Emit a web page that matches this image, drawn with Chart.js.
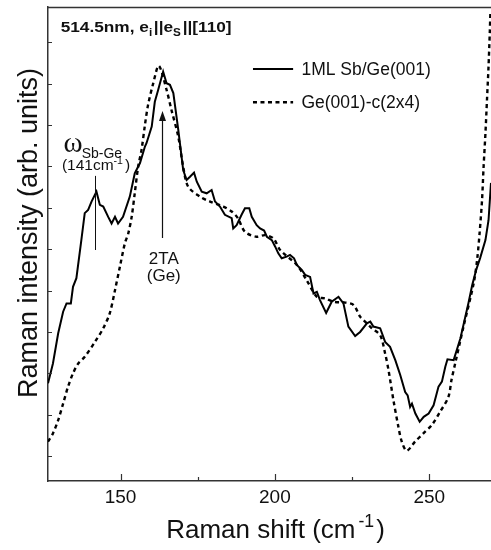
<!DOCTYPE html>
<html lang="en">
<head>
<meta charset="UTF-8">
<title>Raman spectrum - 1ML Sb/Ge(001)</title>
<script src="https://cdn.jsdelivr.net/npm/chart.js"></script>
<style>
    html, body { margin: 0; padding: 0; background: #fff; }
    #wrap { width: 491px; height: 550px; }
</style>
</head>
<body>
<div id="wrap"><canvas id="raman"></canvas></div>
<script>
// spectrum (x: Raman shift in cm-1, y: arbitrary units)
const solidShift = [126.5,128.1,129.8,131.4,132.5,133.9,134.6,135.7,137.3,138.4,
    139.5,140.6,142.2,143.3,144.4,146.0,147.1,148.2,149.2,150.8,
    153.0,154.6,156.3,157.9,158.4,160.1,161.1,162.2,163.8,164.9,
    166.0,167.1,168.7,170.3,171.4,172.5,173.8,174.7,176.3,177.9,
    179.5,180.6,182.2,183.8,186.0,186.5,187.6,189.2,190.3,191.7,
    192.5,194.1,195.2,196.5,197.4,199.0,200.1,201.1,202.2,203.8,
    204.9,206.2,207.1,208.7,209.8,211.4,212.5,213.6,214.6,216.6,
    218.4,220.6,222.2,223.8,226.0,227.6,229.8,230.9,231.9,234.1,
    235.7,237.3,239.0,240.6,242.2,243.0,243.8,244.4,245.5,246.9,
    248.2,249.8,251.4,253.0,254.1,255.2,255.9,257.9,260.1,262.7,
    263.9,265.2,266.5,268.2,269.2,270.0];
const solidInt = [2.76,3.24,3.97,4.49,4.69,4.69,5.09,5.30,6.22,6.87,
    6.95,7.15,7.39,7.07,7.03,6.78,6.62,6.78,6.62,6.78,
    7.27,7.83,8.08,8.48,8.56,8.96,9.56,9.85,10.29,10.01,
    9.97,9.77,8.88,7.91,7.67,7.75,7.85,7.63,7.39,7.35,
    7.43,7.15,7.03,6.83,6.75,6.50,6.58,6.83,6.99,6.99,
    6.78,6.58,6.50,6.45,6.30,6.22,6.06,5.90,5.78,5.82,
    5.86,5.78,5.62,5.50,5.38,5.33,4.93,4.97,4.77,4.46,
    4.73,4.85,4.69,4.13,3.90,4.00,4.21,4.25,4.13,4.09,
    3.76,3.64,3.32,2.96,2.55,2.47,2.19,2.27,2.03,1.83,
    1.95,2.03,2.23,2.68,2.80,3.16,3.34,3.32,3.85,4.70,
    5.13,5.50,5.79,6.22,6.70,7.60];

const dashShift = [126.5,128.1,129.8,131.4,133.0,134.6,136.3,138.4,141.7,144.4,
    146.5,148.2,149.8,151.4,152.5,153.6,154.6,155.7,156.8,157.9,
    158.9,160.6,162.4,164.9,166.5,168.7,170.3,171.9,175.7,179.0,
    183.3,186.0,188.0,190.3,194.1,196.8,199.5,201.7,207.1,210.3,
    213.6,216.3,219.0,222.8,225.5,227.6,229.2,231.4,234.1,235.7,
    236.8,238.4,240.0,241.1,242.7,245.4,248.1,250.8,253.5,256.2,
    257.2,258.4,261.1,264.4,265.5,266.3,267.1,267.6,268.2,268.7,
    269.2,269.6,269.8];
const dashInt = [1.35,1.55,1.87,2.27,2.68,3.00,3.24,3.40,3.76,4.09,
    4.45,5.01,5.58,6.14,6.38,6.78,7.35,7.99,8.40,9.00,
    9.48,10.01,10.43,9.85,9.36,8.72,7.99,7.51,7.27,7.15,
    7.03,6.91,6.75,6.42,6.30,6.34,6.26,5.98,5.62,5.25,
    4.85,4.81,4.73,4.71,4.65,4.37,4.25,4.09,3.92,3.48,
    3.08,2.35,1.71,1.35,1.13,1.35,1.55,1.75,2.07,2.43,
    2.84,3.24,4.13,5.18,5.74,6.38,7.19,7.99,8.80,9.61,
    10.41,11.22,11.71];

const seriesLabels = ['1ML Sb/Ge(001)', 'Ge(001)-c(2x4)'];
const xLabelled = [150, 200, 250];
const xTitle = 'Raman shift (cm';
const yTitle = 'Raman intensity (arb. units)';

const FONT = "'Liberation Sans', Arial, sans-serif";

function toPoints(xs, ys) {
    return xs.map((x, i) => ({ x: x, y: ys[i] }));
}

// text made of pieces with sub/superscripts; returns the end x
function drawRuns(ctx, x, y, runs, size, weight) {
    ctx.textBaseline = 'alphabetic';
    ctx.textAlign = 'left';
    runs.forEach(r => {
        let fs = size, dy = 0;
        if (r.sub) { fs = size * 0.68; dy = size * 0.28; }
        if (r.sup) { fs = size * 0.68; dy = -size * 0.42; }
        ctx.font = (weight || '') + ' ' + fs + 'px ' + (r.family || FONT);
        ctx.fillText(r.t, x, y + dy);
        x += ctx.measureText(r.t).width + (r.gap || 0);
    });
    return x;
}

function runsWidth(ctx, runs, size, weight) {
    let w = 0;
    runs.forEach(r => {
        const fs = (r.sub || r.sup) ? size * 0.68 : size;
        ctx.font = (weight || '') + ' ' + fs + 'px ' + (r.family || FONT);
        w += ctx.measureText(r.t).width + (r.gap || 0);
    });
    return w;
}

const decorations = {
    id: 'decorations',
    afterDatasetsDraw(chart) {
        const { ctx, chartArea: a, scales: { x, y } } = chart;
        ctx.save();
        ctx.strokeStyle = '#333';
        ctx.lineWidth = 1.5;
        // top frame
        ctx.beginPath();
        ctx.moveTo(a.left, a.top + 0.5);
        ctx.lineTo(a.right, a.top + 0.5);
        ctx.stroke();
        // inward ticks
        ctx.lineWidth = 1.2;
        ctx.beginPath();
        y.ticks.forEach(t => {
            const py = Math.round(y.getPixelForValue(t.value)) + 0.5;
            ctx.moveTo(a.left, py);
            ctx.lineTo(a.left + 4, py);
        });
        x.ticks.forEach(t => {
            const px = Math.round(x.getPixelForValue(t.value)) + 0.5;
            const len = xLabelled.includes(t.value) ? 7 : 4;
            ctx.moveTo(px, a.bottom);
            ctx.lineTo(px, a.bottom - len);
        });
        ctx.stroke();

        ctx.fillStyle = '#111';
        ctx.strokeStyle = '#111';

        // axis titles
        const xRuns = [{ t: xTitle, gap: 3 }, { t: '-1', sup: true, gap: 2 }, { t: ')' }];
        const xw = runsWidth(ctx, xRuns, 26);
        drawRuns(ctx, (a.left + a.right) / 2 + 6 - xw / 2, 538, xRuns, 26);
        ctx.save();
        ctx.translate(36.5, (a.top + a.bottom) / 2 - 11);
        ctx.rotate(-Math.PI / 2);
        ctx.font = '27px ' + FONT;
        ctx.textAlign = 'center';
        ctx.textBaseline = 'alphabetic';
        ctx.fillText(yTitle, 0, 0);
        ctx.restore();

        // header, drawn slightly widened like the original lettering
        ctx.save();
        ctx.translate(x.getPixelForValue(130.6), y.getPixelForValue(11.25));
        ctx.scale(1.15, 1);
        drawRuns(ctx, 0, 0, [
            { t: '514.5nm, e' }, { t: 'i', sub: true, gap: 1.5 }, { t: '||e' },
            { t: 'S', sub: true, gap: 1.5 }, { t: '||[110]' }
        ], 15, 'bold');
        ctx.restore();

        // legend
        chart.data.datasets.forEach((ds, i) => {
            const ly = y.getPixelForValue(i === 0 ? 10.35 : 9.55);
            ctx.save();
            ctx.strokeStyle = ds.borderColor;
            ctx.lineWidth = ds.borderWidth;
            ctx.setLineDash(ds.borderDash || []);
            ctx.beginPath();
            ctx.moveTo(x.getPixelForValue(192.9), ly);
            ctx.lineTo(x.getPixelForValue(205.9), ly);
            ctx.stroke();
            ctx.restore();
            ctx.font = '17.5px ' + FONT;
            ctx.textBaseline = 'middle';
            ctx.textAlign = 'left';
            ctx.fillText(ds.label, x.getPixelForValue(208.6), ly + 1);
        });

        // omega Sb-Ge mode
        drawRuns(ctx, x.getPixelForValue(131.5), y.getPixelForValue(8.35), [
            { t: '\u03C9', family: "'Liberation Serif', serif" }
        ], 29);
        ctx.font = '14px ' + FONT;
        ctx.fillText('Sb-Ge', x.getPixelForValue(137.4), y.getPixelForValue(8.2));
        drawRuns(ctx, x.getPixelForValue(131.0), y.getPixelForValue(7.91), [
            { t: '(141cm' }, { t: '-1', sup: true, gap: 2 }, { t: ')' }
        ], 15.5);
        ctx.lineWidth = 1;
        ctx.beginPath();
        ctx.moveTo(Math.round(x.getPixelForValue(141.7)) + 0.5, y.getPixelForValue(7.77));
        ctx.lineTo(Math.round(x.getPixelForValue(141.7)) + 0.5, y.getPixelForValue(5.98));
        ctx.stroke();

        // 2TA arrow
        const ax = Math.round(x.getPixelForValue(163.5)) + 0.5;
        const ay0 = y.getPixelForValue(6.27), ay1 = y.getPixelForValue(9.34);
        ctx.lineWidth = 1.2;
        ctx.beginPath();
        ctx.moveTo(ax, ay0);
        ctx.lineTo(ax, ay1 + 8);
        ctx.stroke();
        ctx.beginPath();
        ctx.moveTo(ax, ay1);
        ctx.lineTo(ax - 3.5, ay1 + 10);
        ctx.lineTo(ax + 3.5, ay1 + 10);
        ctx.closePath();
        ctx.fill();
        ctx.font = '17px ' + FONT;
        ctx.textAlign = 'center';
        ctx.textBaseline = 'alphabetic';
        ctx.fillText('2TA', x.getPixelForValue(164.0), y.getPixelForValue(5.64));
        ctx.fillText('(Ge)', x.getPixelForValue(164.0), y.getPixelForValue(5.23));
        ctx.restore();
    }
};

new Chart(document.getElementById('raman'), {
    type: 'line',
    data: {
        datasets: [
            {
                label: seriesLabels[0],
                data: toPoints(solidShift, solidInt),
                borderColor: '#000',
                borderWidth: 2,
                pointRadius: 0,
                tension: 0,
                fill: false
            },
            {
                label: seriesLabels[1],
                data: toPoints(dashShift, dashInt),
                borderColor: '#000',
                borderWidth: 2.4,
                borderDash: [4, 3.5],
                pointRadius: 0,
                tension: 0.3,
                fill: false
            }
        ]
    },
    options: {
        responsive: true,
        maintainAspectRatio: false,
        animation: false,
        devicePixelRatio: 1,
        layout: { padding: { top: 7, right: 0, left: 0, bottom: 0 } },
        plugins: {
            legend: { display: false },
            tooltip: { enabled: false }
        },
        scales: {
            x: {
                type: 'linear',
                min: 126.5,
                max: 270,
                grid: { drawOnChartArea: false, drawTicks: false },
                border: { display: true, color: '#333', width: 1.5 },
                ticks: {
                    stepSize: 25,
                    includeBounds: false,
                    padding: 5,
                    color: '#111',
                    font: { family: FONT, size: 19 },
                    maxRotation: 0,
                    callback: v => xLabelled.includes(v) ? String(v) : ''
                },
                afterFit: s => { s.height = 69; }
            },
            y: {
                min: 0.4,
                max: 11.85,
                grid: { drawOnChartArea: false, drawTicks: false },
                border: { display: true, color: '#333', width: 1.5 },
                ticks: { display: false, stepSize: 1, includeBounds: false },
                afterFit: s => { s.width = 48; }
            }
        }
    },
    plugins: [decorations]
});
</script>
</body>
</html>
